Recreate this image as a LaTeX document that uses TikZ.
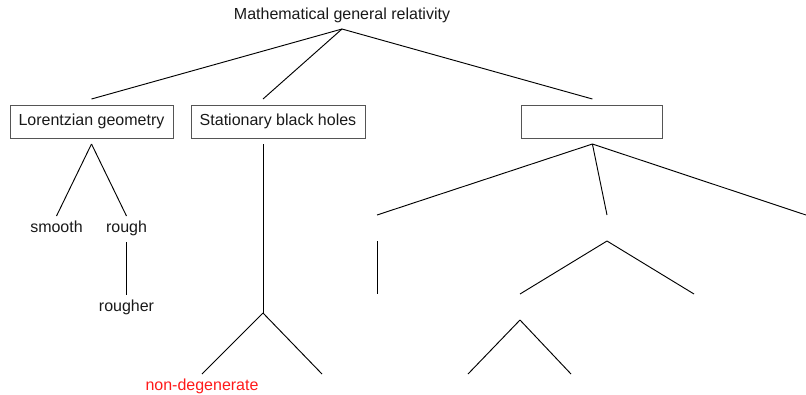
\documentclass[tikz,border=0pt]{standalone}
\usepackage{fontspec}
\setmainfont{Liberation Sans}
\definecolor{mgbox}{HTML}{555555}
\definecolor{mgred}{HTML}{FF1A1A}

\begin{document}
\begin{tikzpicture}[
  x=0.75pt, y=-0.75pt,
  tn/.style={inner sep=0pt, outer sep=0pt, minimum height=19.5pt,
             font=\fontsize{12}{14.4}\selectfont, text=black!90,
             execute at begin node=\strut},
  box/.style={draw=mgbox, line width=0.75pt, inner sep=0pt, outer sep=4.5pt,
              minimum height=24.75pt, font=\fontsize{12}{14.4}\selectfont,
              text=black!90},
  edge/.style={draw=black, line width=0.7pt},
]
\useasboundingbox (0,0) rectangle (806,394);

%% ---- Root ----
\node[tn] (mgr) at (342,16) {Mathematical general relativity};

%% ---- Level 1: boxes ----
\node[box, minimum width=122.25pt] (lg)  at (91.5,121.5) {Lorentzian geometry};
\node[box, minimum width=130.5pt]  (sbh) at (278,121.5)  {Stationary black holes};
\node[box, minimum width=105.75pt] (eb)  at (592.4,121.5) {};
\coordinate (sbhin)  at (263,99);
\coordinate (sbhout) at (263,144);

\draw[edge] (mgr.south) -- (lg.north);
\draw[edge] (mgr.south) -- (sbhin);
\draw[edge] (mgr.south) -- (eb.north);

%% ---- Lorentzian geometry subtree ----
\node[tn] (smooth)  at (56.5,229)  {smooth};
\node[tn] (rough)   at (126.5,229) {rough};
\node[tn] (rougher) at (126.5,308) {rougher};

\draw[edge] (lg.south) -- (smooth.north);
\draw[edge] (lg.south) -- (rough.north);
\draw[edge] (rough.south) -- (rougher.north);

%% ---- Stationary black holes subtree ----
\coordinate (s1) at (263,231);
\coordinate (s2) at (263,313);
\node[tn, text=mgred] (nondeg) at (202,387) {non-degenerate};
\node[tn] (sx) at (322,387) {};

\draw[edge] (sbhout) -- (s1);
\draw[edge] (s1) -- (s2);
\draw[edge] (s2) -- (nondeg.north);
\draw[edge] (s2) -- (sx.north);

%% ---- Empty box subtree ----
\node[tn] (e1)  at (377,228) {};
\node[tn] (e2)  at (607,228) {};
\node[tn] (e3)  at (806,228) {};
\node[tn] (e1c) at (377,307) {};
\node[tn] (e2a) at (520,307) {};
\node[tn] (e2b) at (694,307) {};
\node[tn] (e2a1) at (468,387) {};
\node[tn] (e2a2) at (571,387) {};

\draw[edge] (eb.south) -- (e1.north);
\draw[edge] (eb.south) -- (e2.north);
\draw[edge] (eb.south) -- (e3.north);
\draw[edge] (e1.south) -- (e1c.north);
\draw[edge] (e2.south) -- (e2a.north);
\draw[edge] (e2.south) -- (e2b.north);
\draw[edge] (e2a.south) -- (e2a1.north);
\draw[edge] (e2a.south) -- (e2a2.north);

\end{tikzpicture}
\end{document}
